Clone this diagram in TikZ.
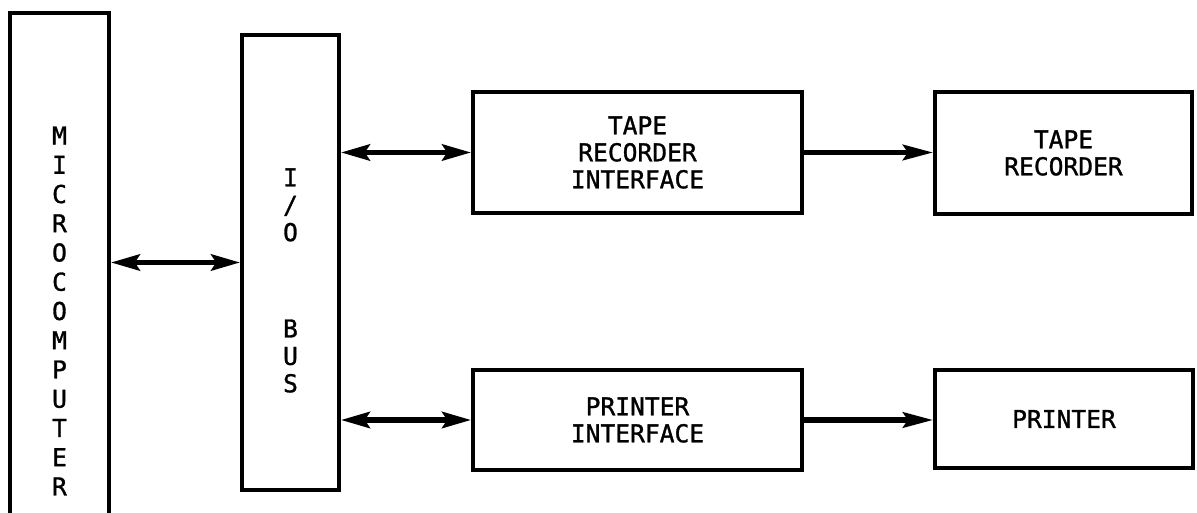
\documentclass[tikz,border=0pt]{standalone}
\usepackage{fontspec}
\newfontfamily\diafont[FakeBold=1.2]{DejaVu Sans Mono}
\usetikzlibrary{arrows.meta, positioning}

\begin{document}
\begin{tikzpicture}[
	block/.style={rectangle, draw=black, line width=2.6pt, align=center, inner sep=0pt, font=\diafont\fontsize{17.5}{19.2}\selectfont},
	colword/.style={align=center, inner sep=0pt, font=\diafont\fontsize{17.5}{#1}\selectfont},
	link/.style={line width=4pt, -{Stealth[length=0.75cm, width=0.38cm, inset=0.12cm]}},
	duplex/.style={line width=4pt, {Stealth[length=0.72cm, width=0.4cm, inset=0.12cm]}-{Stealth[length=0.72cm, width=0.4cm, inset=0.12cm]}}
	]
	\useasboundingbox (0,0) rectangle (29.925,12.825);
	
	% Computer and bus
	\node[block, colword=20.8pt, minimum width=2.475cm, minimum height=14.9cm] (micro) at (1.4875, 5.05) {M\\I\\C\\R\\O\\C\\O\\M\\P\\U\\T\\E\\R};
	\node[block, minimum width=2.425cm, minimum height=11.375cm] (bus) at (7.2625, 6.2625) {};
	\node[colword=19.5pt] (bustext) at (7.2625, 5.8125) {I\\/\\O\\[49pt]B\\U\\S};
	
	% Interfaces
	\node[block, minimum width=8.225cm, minimum height=3.025cm] (tapeif) at (15.9375, 9.0125) {TAPE\\RECORDER\\INTERFACE};
	\node[block, minimum width=8.225cm, minimum height=2.5cm] (prnif) at (15.9375, 2.325) {PRINTER\\INTERFACE};
	
	% Devices
	\node[block, minimum width=6.425cm, minimum height=3.05cm] (tape) at (26.5875, 9.0) {TAPE\\RECORDER};
	\node[block, minimum width=6.45cm, minimum height=2.45cm] (printer) at (26.6, 2.35) {PRINTER};
	
	% Connections
	\draw[duplex] (micro.east |- bus.west) -- (bus.west);
	\draw[duplex] (bus.east |- tapeif.west) -- (tapeif.west);
	\draw[duplex] (bus.east |- prnif.west) -- (prnif.west);
	\draw[link] (tapeif.east) -- (tapeif.east -| tape.west);
	\draw[link] (prnif.east) -- (prnif.east -| printer.west);
\end{tikzpicture}
\end{document}
